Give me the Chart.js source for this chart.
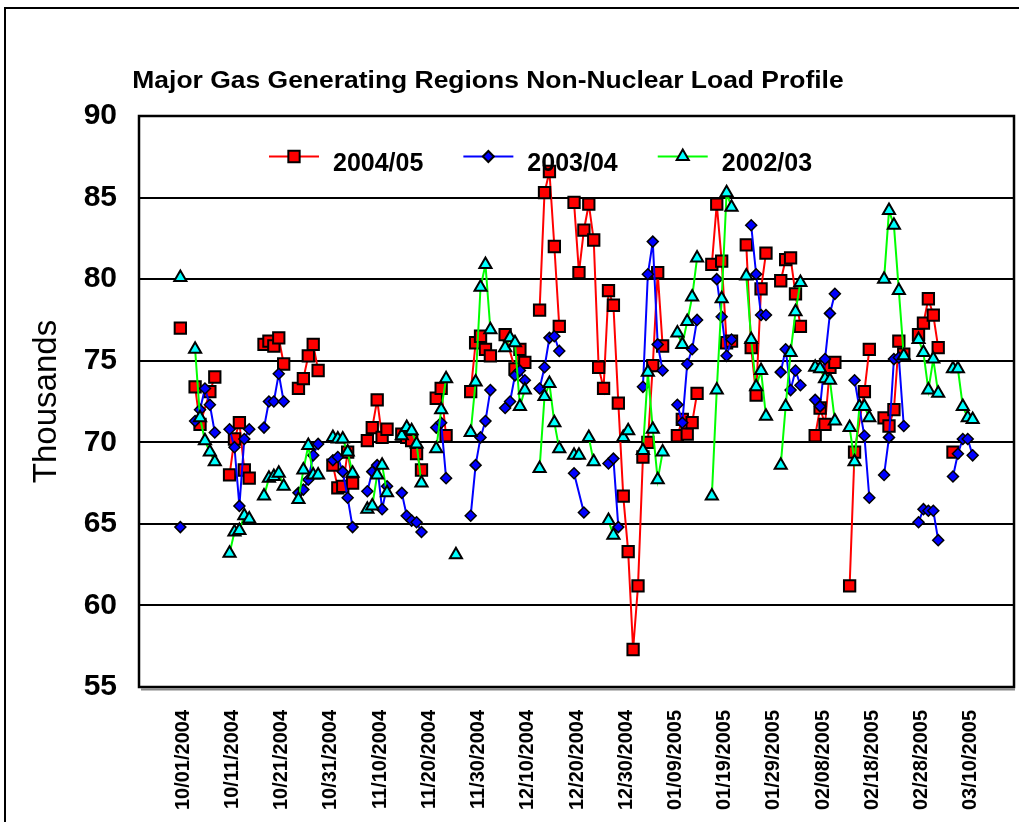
<!DOCTYPE html>
<html>
<head>
<meta charset="utf-8">
<script src="https://cdn.jsdelivr.net/npm/chart.js@4.4.1/dist/chart.umd.min.js"></script>
<style>
  html, body { margin: 0; padding: 0; background: #fff; overflow: hidden; }
  #frame { position: absolute; left: 4px; top: 7px; width: 1100px; height: 900px; border: 2px solid #000; }
  #wrap { position: absolute; left: 0; top: 0; width: 1019px; height: 822px; }
</style>
</head>
<body>
<div id="frame"></div>
<div id="wrap"><canvas id="chart" width="1019" height="822"></canvas></div>
<script>
const chartTitle = 'Major Gas Generating Regions Non-Nuclear Load Profile';
const seriesNames = ['2004/05', '2003/04', '2002/03'];

// x = days after 10/01/2004
const tickDays = [0, 10, 20, 30, 40, 50, 60, 70, 80, 90, 100, 110, 120, 130, 140, 150, 160];
const tickLabels = ['10/01/2004', '10/11/2004', '10/21/2004', '10/31/2004', '11/10/2004', '11/20/2004',
  '11/30/2004', '12/10/2004', '12/20/2004', '12/30/2004', '01/09/2005', '01/19/2005', '01/29/2005',
  '02/08/2005', '02/18/2005', '02/28/2005', '03/10/2005'];

const days0405 = [0, 3, 4, 6, 7, 10, 11, 12, 13, 14, 17, 18, 19, 20, 21, 24, 25, 26, 27, 28,
  31, 32, 33, 34, 35, 38, 39, 40, 41, 42, 45, 46, 47, 48, 49, 52, 53, 54, 59, 60, 61, 62, 63,
  66, 68, 69, 70, 73, 74, 75, 76, 77, 80, 81, 82, 83, 84,
  85, 86, 87, 88, 89, 90, 91, 92, 93, 94, 95, 96, 97, 98,
  101, 102, 103, 104, 105, 108, 109, 110, 111, 112, 115, 116, 117, 118, 119,
  122, 123, 124, 125, 126, 129, 130, 131, 132, 133, 136, 137, 139, 140,
  143, 144, 145, 146, 147, 150, 151, 152, 153, 154, 157];
const load0405 = [77.0, 73.4, 71.1, 73.1, 74.0, 68.0, 70.2, 71.2, 68.3, 67.8, 76.0, 76.2, 75.9, 76.4, 74.8,
  73.3, 73.9, 75.3, 76.0, 74.4, 68.6, 67.2, 67.3, 69.4, 67.5, 70.1, 70.9, 72.6, 70.3, 70.8,
  70.5, 70.3, 70.1, 69.3, 68.3, 72.7, 73.3, 70.4, 73.1, 76.1, 76.5, 75.7, 75.3,
  76.6, 74.5, 75.7, 74.9, 78.1, 85.3, 86.6, 82.0, 77.1, 84.7, 80.4, 83.0, 84.6, 82.4,
  74.6, 73.3, 79.3, 78.4, 72.4, 66.7, 63.3, 57.3, 61.2, 69.1, 70.0, 74.7, 80.4, 75.9,
  70.4, 71.4, 70.5, 71.2, 73.0, 80.9, 84.6, 81.1, 76.1, 76.2, 82.1, 75.8, 72.9, 79.4, 81.6,
  79.9, 81.2, 81.3, 79.1, 77.1, 70.4, 72.1, 71.1, 74.6, 74.9, 61.2, 69.4, 73.1, 75.7,
  71.5, 71.0, 72.0, 76.2, 75.4, 76.6, 77.3, 78.8, 77.8, 75.8, 69.4];

const days0304 = [0, 3, 4, 5, 6, 7, 10, 11, 12, 13, 14, 17, 18, 19, 20, 21, 24, 25, 26, 27, 28,
  31, 32, 33, 34, 35, 38, 39, 40, 41, 42, 45, 46, 47, 48, 49, 52, 53, 54, 59, 60, 61, 62, 63,
  66, 67, 68, 69, 70, 73, 74, 75, 76, 77, 80, 82, 87, 88, 89, 94, 95, 96, 97, 98,
  101, 102, 103, 104, 105, 109, 110, 111, 112, 116, 117, 118, 119,
  122, 123, 124, 125, 126, 129, 130, 131, 132, 133, 137, 139, 140,
  143, 144, 145, 146, 147, 150, 151, 152, 153, 154, 157, 158, 159, 160, 161];
const load0304 = [64.8, 71.3, 72.0, 73.3, 72.3, 70.6, 70.8, 69.7, 66.1, 70.2, 70.8, 70.9, 72.5, 72.5, 74.2, 72.5,
  66.9, 67.1, 67.7, 69.2, 69.9, 68.9, 69.1, 68.2, 66.6, 64.8, 67.0, 68.2, 68.6, 65.9, 67.3,
  66.9, 65.5, 65.2, 65.1, 64.5, 70.9, 71.2, 67.8, 65.5, 68.6, 70.3, 71.3, 73.2,
  72.1, 72.5, 74.1, 74.4, 73.8, 73.3, 74.6, 76.4, 76.5, 75.6, 68.1, 65.7, 68.7, 69.0, 64.8,
  73.4, 80.3, 82.3, 76.0, 74.4, 72.3, 71.2, 74.8, 75.7, 77.5, 80.0, 77.7, 75.3, 76.3,
  83.3, 80.3, 77.8, 77.8, 74.3, 75.7, 73.2, 74.4, 73.5, 72.6, 72.2, 75.1, 77.9, 79.1,
  73.8, 70.4, 66.6, 68.0, 70.3, 75.1, 75.2, 71.0, 65.1, 65.9, 65.8, 65.8, 64.0,
  67.9, 69.3, 70.2, 70.2, 69.2];

const days0203 = [0, 3, 4, 5, 6, 7, 10, 11, 12, 13, 14, 17, 18, 19, 20, 21, 24, 25, 26, 27, 28,
  31, 32, 33, 34, 35, 38, 39, 40, 41, 42, 45, 46, 47, 48, 49, 52, 53, 54, 56, 59, 60, 61, 62, 63,
  66, 67, 68, 69, 70, 73, 74, 75, 76, 77, 80, 81, 83, 84, 87, 88, 90, 91, 94, 95, 96, 97, 98,
  101, 102, 103, 104, 105, 108, 109, 110, 111, 112, 115, 116, 117, 118, 119,
  122, 123, 124, 125, 126, 129, 130, 131, 132, 133, 136, 137, 138, 139, 140,
  143, 144, 145, 146, 147, 150, 151, 152, 153, 154, 157, 158, 159, 160, 161];
const load0203 = [80.1, 75.7, 71.5, 70.1, 69.4, 68.8, 63.2, 64.5, 64.6, 65.5, 65.3, 66.7, 67.8, 67.9, 68.1, 67.3,
  66.5, 68.3, 69.8, 68.0, 68.0, 70.3, 70.2, 70.2, 69.4, 68.1, 65.9, 66.1, 68.0, 68.6, 66.9,
  70.4, 70.9, 70.7, 69.9, 67.5, 69.6, 72.0, 73.9, 63.1, 70.6, 73.7, 79.5, 80.9, 76.9,
  75.8, 76.4, 76.1, 72.2, 73.2, 68.4, 72.8, 73.6, 71.2, 69.6, 69.2, 69.2, 70.3, 68.8,
  65.2, 64.3, 70.3, 70.7, 69.5, 74.3, 70.8, 67.7, 69.4,
  76.7, 76.0, 77.4, 78.9, 81.3, 66.7, 73.2, 78.8, 85.3, 84.4, 80.2, 76.3, 73.4, 74.4, 71.6,
  68.6, 72.2, 75.5, 78.0, 79.8, 74.6, 74.5, 73.9, 73.8, 71.3, 70.9, 68.8, 72.2, 72.2, 71.5,
  80.0, 84.2, 83.3, 79.3, 75.3, 76.3, 75.5, 73.2, 75.1, 73.0, 74.5, 74.5, 72.2, 71.5, 71.4];

const fontFam = "'Liberation Sans', Arial, sans-serif";
Chart.defaults.font.family = fontFam;
Chart.defaults.color = '#000';

const toPoints = (days, load) => days.map((d, i) => ({ x: d, y: load[i] }));

// marker shapes for the hand drawn legend
const drawMarker = (ctx, style, x, y, r, fill) => {
  ctx.beginPath();
  if (style === 'rect') {
    const s = r * Math.SQRT1_2;
    ctx.rect(x - s, y - s, 2 * s, 2 * s);
  } else if (style === 'rectRot') {
    ctx.moveTo(x - r, y); ctx.lineTo(x, y - r); ctx.lineTo(x + r, y); ctx.lineTo(x, y + r);
    ctx.closePath();
  } else {
    ctx.moveTo(x, y - r);
    ctx.lineTo(x + r * 0.866, y + r / 2);
    ctx.lineTo(x - r * 0.866, y + r / 2);
    ctx.closePath();
  }
  ctx.fillStyle = fill;
  ctx.fill();
  ctx.lineWidth = 2;
  ctx.strokeStyle = '#000';
  ctx.stroke();
};

const decor = {
  id: 'decor',
  beforeDatasetsDraw(chart) {
    const { ctx, chartArea: a } = chart;
    ctx.save();
    ctx.strokeStyle = '#888';
    ctx.lineWidth = 2;
    ctx.beginPath();
    ctx.moveTo(a.left + 2, a.bottom + 2.5);
    ctx.lineTo(a.right + 1, a.bottom + 2.5);
    ctx.stroke();
    ctx.strokeStyle = '#000';
    ctx.lineWidth = 2.5;
    ctx.strokeRect(a.left, a.top, a.right - a.left, a.bottom - a.top);
    ctx.restore();
  },
  afterDraw(chart) {
    const ctx = chart.ctx;
    ctx.save();
    // title
    ctx.font = 'bold 23px ' + fontFam;
    ctx.fillStyle = '#000';
    ctx.textAlign = 'center';
    ctx.textBaseline = 'alphabetic';
    ctx.translate(488, 87.5);
    ctx.scale(1.15, 1);
    ctx.fillText(chartTitle, 0, 0);
    ctx.restore();

    // legend
    ctx.save();
    ctx.font = 'bold 25px ' + fontFam;
    ctx.textAlign = 'left';
    ctx.textBaseline = 'alphabetic';
    let x = 269;
    const ly = 156.5;
    chart.data.datasets.forEach(ds => {
      ctx.strokeStyle = ds.borderColor;
      ctx.lineWidth = 2;
      ctx.beginPath();
      ctx.moveTo(x, ly);
      ctx.lineTo(x + 50, ly);
      ctx.stroke();
      drawMarker(ctx, ds.pointStyle, x + 25, ly, ds.pointRadius, ds.pointBackgroundColor);
      ctx.fillStyle = '#000';
      ctx.fillText(ds.label, x + 64, 170.5);
      x += 64 + ctx.measureText(ds.label).width + 40;
    });
    ctx.restore();
  }
};

new Chart('chart', {
  type: 'line',
  data: {
    datasets: [{
      label: seriesNames[0],
      data: toPoints(days0405, load0405),
      borderColor: '#ff0000',
      borderWidth: 2,
      pointStyle: 'rect',
      pointRadius: 8,
      pointBackgroundColor: '#ff0000',
      pointBorderColor: '#000',
      pointBorderWidth: 2,
      spanGaps: 2,
      order: 3
    }, {
      label: seriesNames[1],
      data: toPoints(days0304, load0304),
      borderColor: '#0000ff',
      borderWidth: 2,
      pointStyle: 'rectRot',
      pointRadius: 5.5,
      pointBackgroundColor: '#0000ff',
      pointBorderColor: '#000',
      pointBorderWidth: 1.5,
      spanGaps: 2,
      order: 2
    }, {
      label: seriesNames[2],
      data: toPoints(days0203, load0203),
      borderColor: '#00ff00',
      borderWidth: 2,
      pointStyle: 'triangle',
      pointRadius: 7,
      pointBackgroundColor: '#00ffff',
      pointBorderColor: '#000',
      pointBorderWidth: 2,
      spanGaps: 1.5,
      order: 1
    }]
  },
  options: {
    responsive: false,
    animation: false,
    events: [],
    layout: { autoPadding: false, padding: { left: 0, top: 116, right: 5, bottom: 0 } },
    plugins: { legend: { display: false }, tooltip: { enabled: false }, title: { display: false } },
    scales: {
      x: {
        type: 'linear',
        min: -8.4,
        max: 169.4,
        afterBuildTicks: (scale) => { scale.ticks = tickDays.map(v => ({ value: v })); },
        afterFit: (scale) => {
          scale.height = 135;
          scale.paddingLeft = 0;
          scale.paddingRight = 0;
        },
        grid: { display: false, drawTicks: false },
        border: { display: false },
        ticks: {
          autoSkip: false,
          minRotation: 90,
          maxRotation: 90,
          padding: 23,
          labelOffset: 3,
          color: '#000',
          font: { size: 20, weight: 'bold' },
          callback: (v) => tickLabels[tickDays.indexOf(v)]
        }
      },
      y: {
        min: 55,
        max: 90,
        afterFit: (scale) => { scale.width = 139; },
        grid: { color: '#000', lineWidth: 2, drawTicks: false },
        border: { display: false },
        ticks: { stepSize: 5, padding: 22, color: '#000', font: { size: 30, weight: 'bold' } },
        title: {
          display: true,
          text: 'Thousands',
          color: '#000',
          font: { size: 33, weight: 'normal' },
          padding: { top: 27, bottom: 0 }
        }
      }
    }
  },
  plugins: [decor]
});
</script>
</body>
</html>
